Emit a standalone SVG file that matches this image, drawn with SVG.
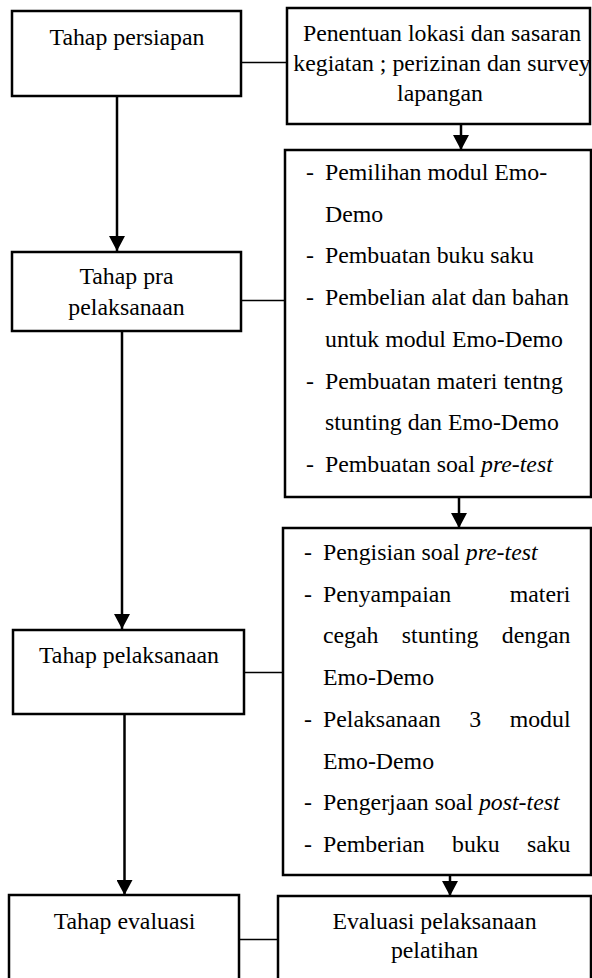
<svg xmlns="http://www.w3.org/2000/svg" width="592" height="978" viewBox="0 0 592 978">
<style>
.box{fill:#fff;stroke:#000;stroke-width:2.5}
text{font-family:"Liberation Serif","Times New Roman",serif;font-size:23.8px;fill:#000}
.c{text-anchor:middle}
.e{text-anchor:end}
.i{font-style:italic}
.thin{stroke:#000;stroke-width:1.3;fill:none}
.arr{stroke:#000;stroke-width:2.5;fill:none;marker-end:url(#ah)}
</style>
<defs>
<marker id="ah" markerUnits="userSpaceOnUse" viewBox="0 0 15 16" refX="15" refY="8" markerWidth="15" markerHeight="16" orient="auto">
<path d="M0,0 L15,8 L0,16 Z" fill="#000"/>
</marker>
</defs>
<rect width="592" height="978" fill="#fff"/>
<g id="connectors">
<line class="arr" x1="117" y1="96" x2="117" y2="251"/>
<line class="arr" x1="122" y1="331" x2="122" y2="629"/>
<line class="arr" x1="124.5" y1="714" x2="124.5" y2="895"/>
<line class="arr" x1="461" y1="124" x2="461" y2="150"/>
<line class="arr" x1="459" y1="497" x2="459" y2="528"/>
<line class="arr" x1="450" y1="875" x2="450" y2="896"/>
<line class="thin" x1="241" y1="62.5" x2="290" y2="62.5"/>
<line class="thin" x1="241" y1="300.5" x2="289" y2="300.5"/>
<line class="thin" x1="244" y1="672.5" x2="283" y2="672.5"/>
<line class="thin" x1="239" y1="939.5" x2="282" y2="939.5"/>
</g>
<g id="n1">
<rect class="box" x="12" y="11" width="229" height="85"/>
<text class="c" x="127" y="45">Tahap persiapan</text>
</g>
<g id="n2">
<rect class="box" x="287" y="8" width="303" height="116"/>
<text class="c" x="442" y="41">Penentuan lokasi dan sasaran</text>
<text class="c" x="442" y="71">kegiatan ; perizinan dan survey</text>
<text class="c" x="440" y="101">lapangan</text>
</g>
<g id="n3">
<rect class="box" x="12" y="252" width="229" height="79"/>
<text class="c" x="126.5" y="284">Tahap pra</text>
<text class="c" x="126.5" y="315">pelaksanaan</text>
</g>
<g id="n4">
<rect class="box" x="285" y="150" width="306" height="347"/>
<text x="306" y="180">-</text><text x="325" y="180">Pemilihan modul Emo-</text>
<text x="325" y="221.7">Demo</text>
<text x="306" y="263.4">-</text><text x="325" y="263.4">Pembuatan buku saku</text>
<text x="306" y="305.1">-</text><text x="325" y="305.1">Pembelian alat dan bahan</text>
<text x="325" y="346.8">untuk modul Emo-Demo</text>
<text x="306" y="388.5">-</text><text x="325" y="388.5">Pembuatan materi tentng</text>
<text x="325" y="430.2">stunting dan Emo-Demo</text>
<text x="306" y="471.9">-</text><text x="325" y="471.9">Pembuatan soal <tspan class="i">pre-test</tspan></text>
</g>
<g id="n5">
<rect class="box" x="13" y="630" width="231" height="84"/>
<text class="c" x="129" y="663">Tahap pelaksanaan</text>
</g>
<g id="n6">
<rect class="box" x="283" y="528" width="308" height="347"/>
<text x="304" y="560">-</text><text x="323" y="560">Pengisian soal <tspan class="i">pre-test</tspan></text>
<text x="304" y="601.7">-</text><text x="323" y="601.7">Penyampaian</text><text class="e" x="570.5" y="601.7">materi</text>
<text x="323" y="643.4">cegah</text><text x="401.8" y="643.4">stunting</text><text class="e" x="570.5" y="643.4">dengan</text>
<text x="323" y="685.1">Emo-Demo</text>
<text x="304" y="726.8">-</text><text x="323" y="726.8">Pelaksanaan</text><text x="469.2" y="726.8">3</text><text class="e" x="570.5" y="726.8">modul</text>
<text x="323" y="768.5">Emo-Demo</text>
<text x="304" y="810.2">-</text><text x="323" y="810.2">Pengerjaan soal <tspan class="i">post-test</tspan></text>
<text x="304" y="851.9">-</text><text x="323" y="851.9">Pemberian</text><text x="452" y="851.9">buku</text><text class="e" x="570.5" y="851.9">saku</text>
</g>
<g id="n7">
<rect class="box" x="9" y="895" width="230" height="100"/>
<text class="c" x="124.5" y="929">Tahap evaluasi</text>
</g>
<g id="n8">
<rect class="box" x="278" y="896" width="313" height="100"/>
<text class="c" x="434.5" y="929">Evaluasi pelaksanaan</text>
<text class="c" x="434.5" y="958">pelatihan</text>
</g>
</svg>
